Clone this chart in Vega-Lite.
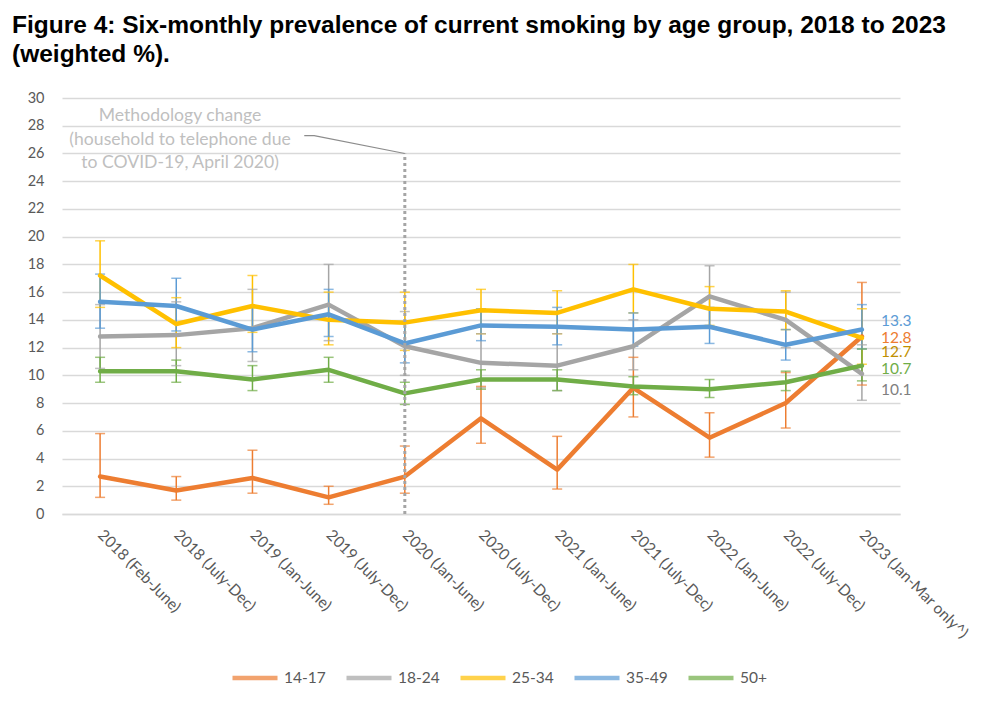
{
  "$schema": "https://vega.github.io/schema/vega-lite/v6.json",
  "width": 838,
  "height": 416,
  "padding": {"left": 12, "top": 13, "right": 10, "bottom": 10},
  "title": {
    "text": ["Figure 4: Six-monthly prevalence of current smoking by age group, 2018 to 2023", "(weighted %)."],
    "anchor": "start",
    "frame": "group",
    "dx": -50,
    "font": "Liberation Sans",
    "fontSize": 24.5,
    "fontWeight": "bold",
    "color": "#000000",
    "lineHeight": 29,
    "offset": 22.5
  },
  "config": {
    "view": {"stroke": null},
    "font": "Lato"
  },
  "data": {
    "values": [
      {"period": "2018 (Feb-June)", "idx": 0, "group": "14-17", "pct": 2.7, "lo": 1.2, "hi": 5.8},
      {"period": "2018 (July-Dec)", "idx": 1, "group": "14-17", "pct": 1.7, "lo": 1.0, "hi": 2.7},
      {"period": "2019 (Jan-June)", "idx": 2, "group": "14-17", "pct": 2.6, "lo": 1.5, "hi": 4.6},
      {"period": "2019 (July-Dec)", "idx": 3, "group": "14-17", "pct": 1.2, "lo": 0.7, "hi": 2.0},
      {"period": "2020 (Jan-June)", "idx": 4, "group": "14-17", "pct": 2.7, "lo": 1.5, "hi": 4.9},
      {"period": "2020 (July-Dec)", "idx": 5, "group": "14-17", "pct": 6.9, "lo": 5.1, "hi": 9.2},
      {"period": "2021 (Jan-June)", "idx": 6, "group": "14-17", "pct": 3.2, "lo": 1.8, "hi": 5.6},
      {"period": "2021 (July-Dec)", "idx": 7, "group": "14-17", "pct": 9.1, "lo": 7.0, "hi": 11.3},
      {"period": "2022 (Jan-June)", "idx": 8, "group": "14-17", "pct": 5.5, "lo": 4.1, "hi": 7.3},
      {"period": "2022 (July-Dec)", "idx": 9, "group": "14-17", "pct": 8.0, "lo": 6.2, "hi": 10.2},
      {"period": "2023 (Jan-Mar only^)", "idx": 10, "group": "14-17", "pct": 12.8, "lo": 9.3, "hi": 16.7},

      {"period": "2018 (Feb-June)", "idx": 0, "group": "18-24", "pct": 12.8, "lo": 10.5, "hi": 15.1},
      {"period": "2018 (July-Dec)", "idx": 1, "group": "18-24", "pct": 12.9, "lo": 10.7, "hi": 15.3},
      {"period": "2019 (Jan-June)", "idx": 2, "group": "18-24", "pct": 13.4, "lo": 11.0, "hi": 16.2},
      {"period": "2019 (July-Dec)", "idx": 3, "group": "18-24", "pct": 15.1, "lo": 12.5, "hi": 18.0},
      {"period": "2020 (Jan-June)", "idx": 4, "group": "18-24", "pct": 12.1, "lo": 10.0, "hi": 14.6},
      {"period": "2020 (July-Dec)", "idx": 5, "group": "18-24", "pct": 10.9, "lo": 9.1, "hi": 13.0},
      {"period": "2021 (Jan-June)", "idx": 6, "group": "18-24", "pct": 10.7, "lo": 8.9, "hi": 13.0},
      {"period": "2021 (July-Dec)", "idx": 7, "group": "18-24", "pct": 12.1, "lo": 10.4, "hi": 14.0},
      {"period": "2022 (Jan-June)", "idx": 8, "group": "18-24", "pct": 15.7, "lo": 13.5, "hi": 17.9},
      {"period": "2022 (July-Dec)", "idx": 9, "group": "18-24", "pct": 14.0, "lo": 12.0, "hi": 16.0},
      {"period": "2023 (Jan-Mar only^)", "idx": 10, "group": "18-24", "pct": 10.1, "lo": 8.2, "hi": 12.2},

      {"period": "2018 (Feb-June)", "idx": 0, "group": "25-34", "pct": 17.2, "lo": 14.9, "hi": 19.7},
      {"period": "2018 (July-Dec)", "idx": 1, "group": "25-34", "pct": 13.7, "lo": 12.0, "hi": 15.6},
      {"period": "2019 (Jan-June)", "idx": 2, "group": "25-34", "pct": 15.0, "lo": 13.1, "hi": 17.2},
      {"period": "2019 (July-Dec)", "idx": 3, "group": "25-34", "pct": 14.0, "lo": 12.2, "hi": 16.0},
      {"period": "2020 (Jan-June)", "idx": 4, "group": "25-34", "pct": 13.8, "lo": 11.8, "hi": 16.0},
      {"period": "2020 (July-Dec)", "idx": 5, "group": "25-34", "pct": 14.7, "lo": 13.0, "hi": 16.2},
      {"period": "2021 (Jan-June)", "idx": 6, "group": "25-34", "pct": 14.5, "lo": 13.0, "hi": 16.1},
      {"period": "2021 (July-Dec)", "idx": 7, "group": "25-34", "pct": 16.2, "lo": 14.5, "hi": 18.0},
      {"period": "2022 (Jan-June)", "idx": 8, "group": "25-34", "pct": 14.8, "lo": 13.6, "hi": 16.4},
      {"period": "2022 (July-Dec)", "idx": 9, "group": "25-34", "pct": 14.6, "lo": 13.3, "hi": 16.1},
      {"period": "2023 (Jan-Mar only^)", "idx": 10, "group": "25-34", "pct": 12.7, "lo": 10.8, "hi": 14.8},

      {"period": "2018 (Feb-June)", "idx": 0, "group": "35-49", "pct": 15.3, "lo": 13.4, "hi": 17.3},
      {"period": "2018 (July-Dec)", "idx": 1, "group": "35-49", "pct": 15.0, "lo": 13.2, "hi": 17.0},
      {"period": "2019 (Jan-June)", "idx": 2, "group": "35-49", "pct": 13.3, "lo": 11.7, "hi": 14.9},
      {"period": "2019 (July-Dec)", "idx": 3, "group": "35-49", "pct": 14.4, "lo": 12.8, "hi": 16.2},
      {"period": "2020 (Jan-June)", "idx": 4, "group": "35-49", "pct": 12.3, "lo": 10.9, "hi": 13.8},
      {"period": "2020 (July-Dec)", "idx": 5, "group": "35-49", "pct": 13.6, "lo": 12.5, "hi": 14.8},
      {"period": "2021 (Jan-June)", "idx": 6, "group": "35-49", "pct": 13.5, "lo": 12.2, "hi": 14.9},
      {"period": "2021 (July-Dec)", "idx": 7, "group": "35-49", "pct": 13.3, "lo": 12.1, "hi": 14.5},
      {"period": "2022 (Jan-June)", "idx": 8, "group": "35-49", "pct": 13.5, "lo": 12.3, "hi": 14.9},
      {"period": "2022 (July-Dec)", "idx": 9, "group": "35-49", "pct": 12.2, "lo": 11.1, "hi": 13.3},
      {"period": "2023 (Jan-Mar only^)", "idx": 10, "group": "35-49", "pct": 13.3, "lo": 11.9, "hi": 15.1},

      {"period": "2018 (Feb-June)", "idx": 0, "group": "50+", "pct": 10.3, "lo": 9.5, "hi": 11.3},
      {"period": "2018 (July-Dec)", "idx": 1, "group": "50+", "pct": 10.3, "lo": 9.5, "hi": 11.1},
      {"period": "2019 (Jan-June)", "idx": 2, "group": "50+", "pct": 9.7, "lo": 8.9, "hi": 10.7},
      {"period": "2019 (July-Dec)", "idx": 3, "group": "50+", "pct": 10.4, "lo": 9.5, "hi": 11.3},
      {"period": "2020 (Jan-June)", "idx": 4, "group": "50+", "pct": 8.7, "lo": 7.9, "hi": 9.5},
      {"period": "2020 (July-Dec)", "idx": 5, "group": "50+", "pct": 9.7, "lo": 9.0, "hi": 10.4},
      {"period": "2021 (Jan-June)", "idx": 6, "group": "50+", "pct": 9.7, "lo": 8.9, "hi": 10.4},
      {"period": "2021 (July-Dec)", "idx": 7, "group": "50+", "pct": 9.2, "lo": 8.6, "hi": 9.9},
      {"period": "2022 (Jan-June)", "idx": 8, "group": "50+", "pct": 9.0, "lo": 8.4, "hi": 9.7},
      {"period": "2022 (July-Dec)", "idx": 9, "group": "50+", "pct": 9.5, "lo": 8.9, "hi": 10.3},
      {"period": "2023 (Jan-Mar only^)", "idx": 10, "group": "50+", "pct": 10.7, "lo": 9.6, "hi": 11.9}
    ]
  },
  "layer": [
    {
      "mark": {"type": "rule", "strokeWidth": 1.5},
      "encoding": {
        "x": {
          "field": "idx",
          "type": "quantitative",
          "scale": {"domain": [-0.5, 10.5], "nice": false, "zero": false},
          "axis": {
            "title": null,
            "values": [0, 1, 2, 3, 4, 5, 6, 7, 8, 9, 10],
            "tickCount": 20,
            "labelExpr": "['2018 (Feb-June)','2018 (July-Dec)','2019 (Jan-June)','2019 (July-Dec)','2020 (Jan-June)','2020 (July-Dec)','2021 (Jan-June)','2021 (July-Dec)','2022 (Jan-June)','2022 (July-Dec)','2023 (Jan-Mar only^)'][datum.value]",
            "labelAngle": 45,
            "labelAlign": "left",
            "labelBaseline": "middle",
            "labelPadding": 18,
            "labelFontSize": 15.5,
            "labelColor": "#595959",
            "labelFont": "Lato",
            "labelOverlap": false,
            "labelBound": false,
            "grid": false,
            "ticks": false,
            "domainColor": "#d9d9d9",
            "domainWidth": 1.3
          }
        },
        "y": {
          "field": "lo",
          "type": "quantitative",
          "scale": {"domain": [0, 30], "nice": false},
          "axis": {
            "title": null,
            "values": [0, 2, 4, 6, 8, 10, 12, 14, 16, 18, 20, 22, 24, 26, 28, 30],
            "tickCount": 20,
            "domain": false,
            "ticks": false,
            "labelPadding": 18,
            "labelFontSize": 14.5,
            "labelColor": "#595959",
            "labelFont": "Lato",
            "labelOverlap": false,
            "gridColor": "#d9d9d9",
            "gridWidth": 1.3
          }
        },
        "y2": {"field": "hi"},
        "color": {
          "field": "group",
          "type": "nominal",
          "scale": {
            "domain": ["14-17", "18-24", "25-34", "35-49", "50+"],
            "range": ["#ED7D31", "#A5A5A5", "#FFC000", "#5B9BD5", "#70AD47"]
          },
          "legend": {
            "title": null,
            "orient": "none",
            "legendX": 168,
            "legendY": 555,
            "direction": "horizontal",
            "symbolType": "stroke",
            "symbolSize": 2025,
            "symbolStrokeWidth": 4.5,
            "labelFontSize": 15.5,
            "labelColor": "#595959",
            "labelFont": "Lato",
            "labelOffset": 4,
            "columnPadding": 11
          }
        }
      }
    },
    {
      "mark": {"type": "tick", "orient": "horizontal", "size": 10, "thickness": 1.5},
      "encoding": {
        "x": {"field": "idx", "type": "quantitative"},
        "y": {"field": "lo", "type": "quantitative"},
        "color": {"field": "group", "type": "nominal"}
      }
    },
    {
      "mark": {"type": "tick", "orient": "horizontal", "size": 10, "thickness": 1.5},
      "encoding": {
        "x": {"field": "idx", "type": "quantitative"},
        "y": {"field": "hi", "type": "quantitative"},
        "color": {"field": "group", "type": "nominal"}
      }
    },
    {
      "mark": {"type": "line", "strokeWidth": 4.5, "strokeJoin": "round", "strokeCap": "round"},
      "encoding": {
        "x": {"field": "idx", "type": "quantitative"},
        "y": {"field": "pct", "type": "quantitative"},
        "color": {"field": "group", "type": "nominal"}
      }
    },
    {
      "data": {"values": [{"idx": 4, "bottom": 0, "top": 26}]},
      "mark": {"type": "rule", "color": "#A5A5A5", "strokeWidth": 3, "strokeDash": [3, 3]},
      "encoding": {
        "x": {"field": "idx", "type": "quantitative"},
        "y": {"field": "bottom", "type": "quantitative"},
        "y2": {"field": "top"}
      }
    },
    {
      "data": {"values": [
        {"idx": 2.68, "pct": 27.28},
        {"idx": 2.81, "pct": 27.28},
        {"idx": 4.0, "pct": 26.0}
      ]},
      "mark": {"type": "line", "color": "#8c8c8c", "strokeWidth": 1.2},
      "encoding": {
        "x": {"field": "idx", "type": "quantitative"},
        "y": {"field": "pct", "type": "quantitative"}
      }
    },
    {
      "data": {"values": [
        {"idx": 1.05, "pct": 28.34, "note": "Methodology change"},
        {"idx": 1.05, "pct": 26.61, "note": "(household to telephone due"},
        {"idx": 1.05, "pct": 24.93, "note": "to COVID-19, April 2020)"}
      ]},
      "mark": {"type": "text", "align": "center", "baseline": "alphabetic", "fontSize": 17.6, "color": "#bfbfbf", "font": "Lato"},
      "encoding": {
        "x": {"field": "idx", "type": "quantitative"},
        "y": {"field": "pct", "type": "quantitative"},
        "text": {"field": "note"}
      }
    },
    {
      "transform": [{"filter": "datum.idx == 10 && datum.group == '35-49'"}],
      "mark": {"type": "text", "align": "left", "baseline": "middle", "dx": 19, "dy": -9, "fontSize": 15.5, "color": "#5B9BD5", "font": "Lato"},
      "encoding": {
        "x": {"field": "idx", "type": "quantitative"},
        "y": {"field": "pct", "type": "quantitative"},
        "text": {"field": "pct", "format": ".1f"}
      }
    },
    {
      "transform": [{"filter": "datum.idx == 10 && datum.group == '14-17'"}],
      "mark": {"type": "text", "align": "left", "baseline": "middle", "dx": 19, "dy": 1, "fontSize": 15.5, "color": "#ED7D31", "font": "Lato"},
      "encoding": {
        "x": {"field": "idx", "type": "quantitative"},
        "y": {"field": "pct", "type": "quantitative"},
        "text": {"field": "pct", "format": ".1f"}
      }
    },
    {
      "transform": [{"filter": "datum.idx == 10 && datum.group == '25-34'"}],
      "mark": {"type": "text", "align": "left", "baseline": "middle", "dx": 19, "dy": 14, "fontSize": 15.5, "color": "#BF9000", "font": "Lato"},
      "encoding": {
        "x": {"field": "idx", "type": "quantitative"},
        "y": {"field": "pct", "type": "quantitative"},
        "text": {"field": "pct", "format": ".1f"}
      }
    },
    {
      "transform": [{"filter": "datum.idx == 10 && datum.group == '50+'"}],
      "mark": {"type": "text", "align": "left", "baseline": "middle", "dx": 19, "dy": 3, "fontSize": 15.5, "color": "#70AD47", "font": "Lato"},
      "encoding": {
        "x": {"field": "idx", "type": "quantitative"},
        "y": {"field": "pct", "type": "quantitative"},
        "text": {"field": "pct", "format": ".1f"}
      }
    },
    {
      "transform": [{"filter": "datum.idx == 10 && datum.group == '18-24'"}],
      "mark": {"type": "text", "align": "left", "baseline": "middle", "dx": 19, "dy": 16, "fontSize": 15.5, "color": "#7F7F7F", "font": "Lato"},
      "encoding": {
        "x": {"field": "idx", "type": "quantitative"},
        "y": {"field": "pct", "type": "quantitative"},
        "text": {"field": "pct", "format": ".1f"}
      }
    }
  ]
}
